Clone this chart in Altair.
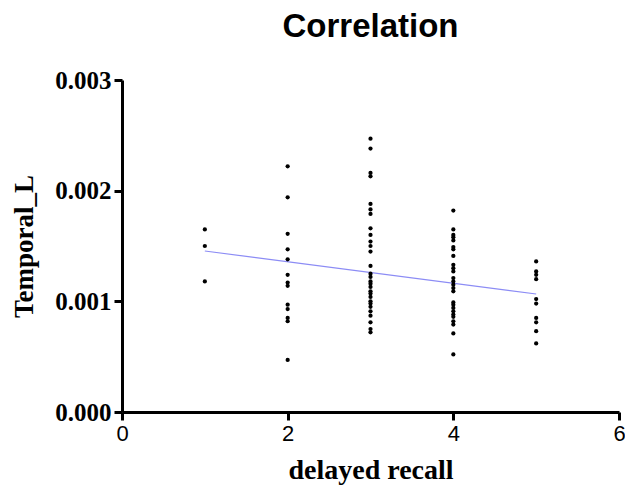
import altair as alt
import pandas as pd

# delayed recall score groups and Temporal_L values
recall_levels = [1, 2, 3, 4, 5]
temporal_1 = [0.00165, 0.00150, 0.00118]
temporal_2 = [0.00222, 0.00194, 0.00161, 0.00147, 0.00138, 0.00124, 0.00117,
              0.00114, 0.00097, 0.00093, 0.00085, 0.00082, 0.00047]
temporal_3 = [0.00247, 0.00238, 0.00216, 0.00213, 0.00188, 0.00183, 0.00179,
              0.00166, 0.00160, 0.00154, 0.00150, 0.00145, 0.00132, 0.00125,
              0.00122, 0.00118, 0.00116, 0.00113, 0.00109, 0.00107, 0.00104,
              0.00100, 0.00098, 0.00095, 0.00091, 0.00087, 0.00081, 0.00075,
              0.00072]
temporal_4 = [0.00182, 0.00165, 0.00160, 0.00158, 0.00155, 0.00149, 0.00147,
              0.00141, 0.00133, 0.00130, 0.00127, 0.00121, 0.00118, 0.00115,
              0.00112, 0.00109, 0.00099, 0.00097, 0.00094, 0.00091, 0.00088,
              0.00086, 0.00082, 0.00079, 0.00071, 0.00052]
temporal_5 = [0.00136, 0.00127, 0.00124, 0.00120, 0.00102, 0.00098, 0.00085,
              0.00081, 0.00073, 0.00062]

# fitted line endpoints
fit_x = [1, 5]
fit_y = [0.001455, 0.001066]

rows = []
for lvl, vals in zip(recall_levels, [temporal_1, temporal_2, temporal_3, temporal_4, temporal_5]):
    for v in vals:
        rows.append({"recall": lvl, "temporal": v})
pts = pd.DataFrame(rows)
fit = pd.DataFrame({"recall": fit_x, "temporal": fit_y})

x_enc = alt.X(
    "recall:Q",
    scale=alt.Scale(domain=[0, 6], nice=False, zero=False),
    axis=alt.Axis(
        values=[0, 2, 4, 6], title="delayed recall", format="d", labelFlush=False,
        labelFont="Liberation Sans", labelFontSize=22, labelPadding=3,
        titleFont="Liberation Serif", titleFontSize=28, titleFontWeight="bold",
        titlePadding=12,
    ),
)
y_enc = alt.Y(
    "temporal:Q",
    scale=alt.Scale(domain=[0, 0.003], nice=False),
    axis=alt.Axis(
        values=[0, 0.001, 0.002, 0.003], format=".3f", title="Temporal_L",
        labelFlush=False,
        labelFont="Liberation Serif", labelFontSize=25, labelFontWeight="bold",
        labelPadding=3,
        titleFont="Liberation Serif", titleFontSize=27, titleFontWeight="bold",
        titlePadding=16,
    ),
)

points = alt.Chart(pts).mark_circle(size=18, color="black", opacity=1).encode(x=x_enc, y=y_enc)
line = alt.Chart(fit).mark_line(color="#8c8cf5", strokeWidth=1.2).encode(x="recall:Q", y="temporal:Q")

chart = (
    alt.layer(line, points)
    .properties(
        width=497,
        height=332,
        title=alt.TitleParams("Correlation", font="Liberation Sans", fontSize=33,
                              fontWeight="bold", color="black", anchor="middle", offset=24),
        autosize=alt.AutoSizeParams(type="none"),
        padding={"left": 114, "top": 72, "right": 6, "bottom": 80},
    )
    .configure_view(stroke=None)
    .configure_axis(
        grid=False, domainColor="black", domainWidth=3, tickColor="black",
        tickWidth=3, tickSize=8, labelColor="black", titleColor="black",
    )
)

chart.save("out.html", embed_options={"renderer": "svg", "actions": False})
